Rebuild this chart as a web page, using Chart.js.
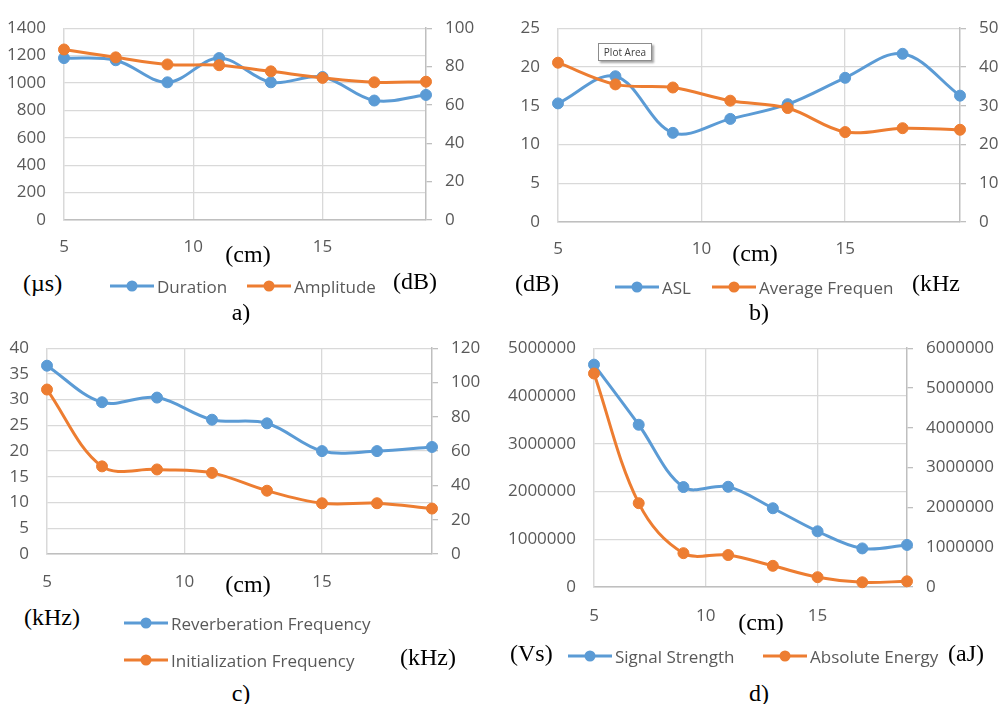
<!DOCTYPE html>
<html>
<head>
<meta charset="utf-8">
<script src="https://cdn.jsdelivr.net/npm/chart.js@4/dist/chart.umd.min.js"></script>
<style>
body { margin: 0; background: #fff; }
#page { position: relative; width: 1005px; height: 704px; overflow: hidden; }
canvas { position: absolute; }
.t { position: absolute; white-space: nowrap; transform: translateY(-50%); line-height: 1; }
.c { transform: translate(-50%, -50%); }
.serif { font-family: "Liberation Serif", "DejaVu Serif", serif; font-size: 24px; color: #000; }
.leg { font-family: "Open Sans", sans-serif; font-size: 17px; color: #595959; }
.sym { position: absolute; transform: translateY(-50%); }
#plotarea { position: absolute; left: 598px; top: 43px; width: 52px; height: 16px; border: 1px solid #8c8c8c;
  background: #fff; box-shadow: 2px 2px 2px rgba(0,0,0,0.35); font-family: "Open Sans", sans-serif;
  font-size: 10px; line-height: 16px; text-align: center; color: #404040; }
</style>
</head>
<body>
<div id="page">
  <canvas id="chartA"></canvas>
  <canvas id="chartB"></canvas>
  <canvas id="chartC"></canvas>
  <canvas id="chartD"></canvas>
  <div id="plotarea">Plot Area</div>
</div>
<script>
// distance in cm, same for all four panels
const xCm = [5, 7, 9, 11, 13, 15, 17, 19];

// a) duration (µs) / amplitude (dB)
const duration = [1182, 1166, 1005, 1182, 1005, 1044, 872, 913];
const amplitude = [88.9, 84.8, 81.1, 80.7, 77.5, 74.1, 71.8, 72.1];
// b) ASL (dB) / average frequency (kHz)
const asl = [15.3, 18.8, 11.5, 13.3, 15.2, 18.6, 21.7, 16.3];
const avgFrequency = [41.1, 35.5, 34.7, 31.3, 29.4, 23.2, 24.2, 23.8];
// c) reverberation / initialization frequency (kHz)
const reverbFrequency = [36.6, 29.5, 30.4, 26.1, 25.4, 20.0, 20.0, 20.8];
const initFrequency = [95.9, 51.1, 49.3, 47.3, 36.9, 29.6, 29.6, 26.5];
// d) signal strength (Vs) / absolute energy (aJ)
const signalStrength = [4656000, 3397000, 2093000, 2099000, 1649000, 1166000, 808000, 881000];
const absEnergy = [5364000, 2106000, 850000, 803000, 532000, 246000, 119000, 143000];

// axis ranges: [min, max, step]
const xAxisRange = [5, 19, 5];
const durationAxis = [0, 1400, 200];
const amplitudeAxis = [0, 100, 20];
const aslAxis = [0, 25, 5];
const avgFreqAxis = [0, 50, 10];
const reverbAxis = [0, 40, 5];
const initAxis = [0, 120, 20];
const signalAxis = [0, 5000000, 1000000];
const energyAxis = [0, 6000000, 1000000];

const BLUE = "#5B9BD5";
const ORANGE = "#ED7D31";
const tickFont = { family: "Open Sans", size: 17 };

function makeChart(id, box, first, second, leftAxis, rightAxis) {
	const cv = document.getElementById(id);
	cv.width = box.w;
	cv.height = box.h;
	cv.style.left = box.x + "px";
	cv.style.top = box.y + "px";
	const series = [first, second];
	return new Chart(cv, {
		type: "line",
		data: {
			datasets: series.map((s, i) => ({
				label: s.label,
				data: xCm.map((x, j) => ({ x: x, y: s.values[j] })),
				yAxisID: i === 0 ? "y" : "y1",
				borderColor: s.color,
				backgroundColor: s.color,
				borderWidth: 3,
				pointRadius: 5.5,
				pointHoverRadius: 5.5,
				pointBorderWidth: 1,
				tension: 0.35,
				clip: false,
				order: i === 0 ? 1 : 0
			}))
		},
		options: {
			responsive: false,
			animation: false,
			events: [],
			layout: { padding: { top: box.top, left: 0, right: 0, bottom: 0 } },
			plugins: { legend: { display: false }, tooltip: { enabled: false } },
			scales: {
				x: {
					type: "linear",
					min: xAxisRange[0],
					max: xAxisRange[1],
					afterFit: (s) => { s.height = box.xh; },
					ticks: { stepSize: xAxisRange[2], includeBounds: false, padding: box.xpad, color: "#595959", font: tickFont },
					grid: { color: "#D9D9D9", lineWidth: 1.3, drawTicks: false },
					border: { color: "#BFBFBF", width: 1.5 }
				},
				y: {
					position: "left",
					min: leftAxis[0],
					max: leftAxis[1],
					afterFit: (s) => { s.width = box.left; },
					ticks: { stepSize: leftAxis[2], padding: 18, color: "#595959", font: tickFont, callback: (v) => String(v) },
					grid: { color: "#D9D9D9", lineWidth: 1.3, drawTicks: false },
					border: { color: "#D9D9D9", width: 1.3 }
				},
				y1: {
					position: "right",
					min: rightAxis[0],
					max: rightAxis[1],
					afterFit: (s) => { s.width = box.right; },
					ticks: { stepSize: rightAxis[2], padding: 13, color: "#595959", font: tickFont, callback: (v) => String(v) },
					grid: { drawOnChartArea: false, drawTicks: true, color: "#BFBFBF", tickLength: 6, lineWidth: 1.3 },
					border: { color: "#BFBFBF", width: 1.5 }
				}
			}
		}
	});
}

makeChart("chartA", { x: 0, y: 0, w: 500, h: 260, top: 17, left: 64, right: 74, xh: 40, xpad: 17 },
	{ label: "Duration", values: duration, color: BLUE },
	{ label: "Amplitude", values: amplitude, color: ORANGE },
	durationAxis, amplitudeAxis);

makeChart("chartB", { x: 500, y: 0, w: 505, h: 262, top: 17, left: 58, right: 45, xh: 40, xpad: 17 },
	{ label: "ASL", values: asl, color: BLUE },
	{ label: "Average Frequen", values: avgFrequency, color: ORANGE },
	aslAxis, avgFreqAxis);

makeChart("chartC", { x: 0, y: 320, w: 500, h: 276, top: 15, left: 47, right: 68, xh: 42, xpad: 18 },
	{ label: "Reverberation Frequency", values: reverbFrequency, color: BLUE },
	{ label: "Initialization Frequency", values: initFrequency, color: ORANGE },
	reverbAxis, initAxis);

makeChart("chartD", { x: 500, y: 320, w: 505, h: 309, top: 15, left: 94, right: 98, xh: 42, xpad: 19 },
	{ label: "Signal Strength", values: signalStrength, color: BLUE },
	{ label: "Absolute Energy", values: absEnergy, color: ORANGE },
	signalAxis, energyAxis);

const page = document.getElementById("page");

function text(str, x, y, cls, centered) {
	const d = document.createElement("div");
	d.className = "t " + cls + (centered ? " c" : "");
	d.textContent = str;
	d.style.left = x + "px";
	d.style.top = y + "px";
	page.appendChild(d);
}

function legendItem(x, y, color, label) {
	const c = document.createElement("canvas");
	c.width = 44;
	c.height = 14;
	c.className = "sym";
	c.style.left = x + "px";
	c.style.top = y + "px";
	const ctx = c.getContext("2d");
	ctx.strokeStyle = color;
	ctx.lineWidth = 3;
	ctx.beginPath();
	ctx.moveTo(0, 7);
	ctx.lineTo(44, 7);
	ctx.stroke();
	ctx.fillStyle = color;
	ctx.beginPath();
	ctx.arc(22, 7, 5.5, 0, Math.PI * 2);
	ctx.fill();
	page.appendChild(c);
	text(label, x + 47, y, "leg");
}

// a)
text("(cm)", 248, 254, "serif", true);
text("(\u00b5s)", 23, 283, "serif");
legendItem(110, 286, BLUE, "Duration");
legendItem(247, 286, ORANGE, "Amplitude");
text("(dB)", 393, 281, "serif");
text("a)", 241, 312, "serif", true);

// b)
text("(cm)", 755, 253, "serif", true);
text("(dB)", 515, 283, "serif");
legendItem(615, 287, BLUE, "ASL");
legendItem(712, 287, ORANGE, "Average Frequen");
text("(kHz", 912, 283, "serif");
text("b)", 759, 312, "serif", true);

// c)
text("(cm)", 248, 584, "serif", true);
text("(kHz)", 24, 617, "serif");
legendItem(124, 623, BLUE, "Reverberation Frequency");
legendItem(124, 660, ORANGE, "Initialization Frequency");
text("(kHz)", 400, 657, "serif");
text("c)", 241, 693, "serif", true);

// d)
text("(cm)", 761, 622, "serif", true);
text("(Vs)", 510, 653, "serif");
legendItem(568, 656, BLUE, "Signal Strength");
legendItem(763, 656, ORANGE, "Absolute Energy");
text("(aJ)", 948, 653, "serif");
text("d)", 759, 693, "serif", true);
</script>
</body>
</html>
